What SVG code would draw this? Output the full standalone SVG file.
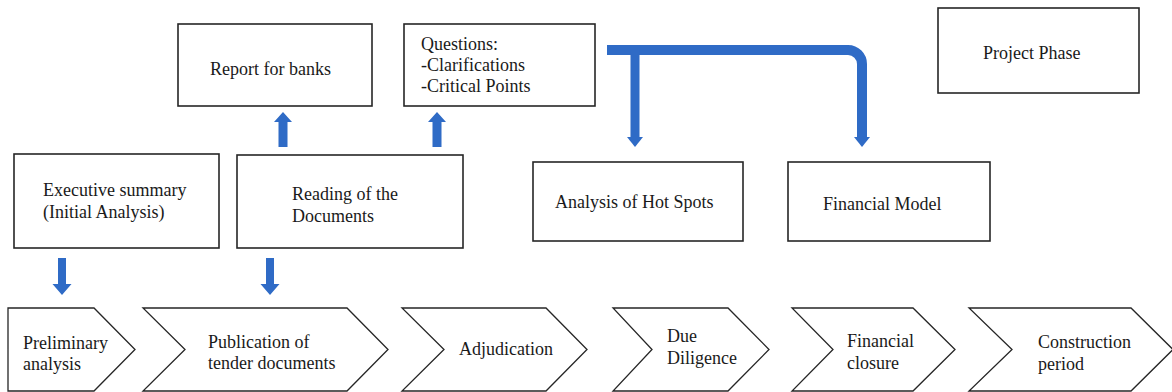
<svg xmlns="http://www.w3.org/2000/svg" width="1172" height="392" viewBox="0 0 1172 392">
  <style>
    .box { fill: #ffffff; stroke: #262626; stroke-width: 1.6; }
    .phase { fill: #ffffff; stroke: #262626; stroke-width: 1.3; stroke-linejoin: miter; }
    .lbl { font-family: 'Liberation Serif', 'Times New Roman', 'DejaVu Serif', serif; font-size: 18px; fill: #1a1a1a; }
    .arrow { fill: #2F6BC6; }
    .pipe { fill: none; stroke: #2F6BC6; }
  </style>
  <rect width="1172" height="392" fill="#ffffff"/>

  <!-- connectors -->
  <g id="connectors">
    <!-- up arrows from "Reading of the Documents" -->
    <polygon class="arrow" points="283,112 292,122 287.5,122 287.5,147 278.5,147 278.5,122 274,122"/>
    <polygon class="arrow" points="437,112 446,122 441.5,122 441.5,147 432.5,147 432.5,122 428,122"/>
    <!-- down arrows into the phase row -->
    <polygon class="arrow" points="58,258 66,258 66,284 71.5,284 62,295 52.5,284 58,284"/>
    <polygon class="arrow" points="266,258 274,258 274,284 279.5,284 270,295 260.5,284 266,284"/>
    <!-- split connector from "Questions" -->
    <path class="pipe" stroke-width="10" d="M607,50 H848 A14,14 0 0 1 862,64 V138"/>
    <path class="pipe" stroke-width="9" d="M635,50 V138"/>
    <polygon class="arrow" points="627,137 643,137 635,147"/>
    <polygon class="arrow" points="854,137 870,137 862,147"/>
  </g>

  <!-- upper boxes -->
  <g id="report-banks">
    <rect class="box" x="178" y="24" width="194" height="82"/>
    <text class="lbl" x="210" y="75">Report for banks</text>
  </g>
  <g id="questions">
    <rect class="box" x="404" y="24" width="191" height="82"/>
    <text class="lbl" x="421" y="50">Questions:</text>
    <text class="lbl" x="421" y="71">-Clarifications</text>
    <text class="lbl" x="421" y="92">-Critical Points</text>
  </g>
  <g id="project-phase">
    <rect class="box" x="938" y="8" width="201" height="85"/>
    <text class="lbl" x="983" y="59">Project Phase</text>
  </g>
  <g id="executive-summary">
    <rect class="box" x="14" y="154" width="205" height="94"/>
    <text class="lbl" x="43" y="196">Executive summary</text>
    <text class="lbl" x="43" y="218">(Initial Analysis)</text>
  </g>
  <g id="reading-documents">
    <rect class="box" x="237" y="155" width="226" height="93"/>
    <text class="lbl" x="292" y="200">Reading of the</text>
    <text class="lbl" x="292" y="222">Documents</text>
  </g>
  <g id="hot-spots">
    <rect class="box" x="533" y="162" width="210" height="79"/>
    <text class="lbl" x="555" y="208">Analysis of Hot Spots</text>
  </g>
  <g id="financial-model">
    <rect class="box" x="788" y="162" width="202" height="79"/>
    <text class="lbl" x="823" y="210">Financial Model</text>
  </g>

  <!-- phase row -->
  <g id="preliminary-analysis">
    <polygon class="phase" points="8,308 94,308 135,349.5 94,391 8,391"/>
    <text class="lbl" x="23" y="349">Preliminary</text>
    <text class="lbl" x="23" y="370">analysis</text>
  </g>
  <g id="publication-tender">
    <polygon class="phase" points="143,308 347,308 388,349.5 347,391 143,391 185,349.5"/>
    <text class="lbl" x="208" y="348">Publication of</text>
    <text class="lbl" x="208" y="369">tender documents</text>
  </g>
  <g id="adjudication">
    <polygon class="phase" points="402,308 546,308 587,349.5 546,391 402,391 444,349.5"/>
    <text class="lbl" x="459" y="355">Adjudication</text>
  </g>
  <g id="due-diligence">
    <polygon class="phase" points="613,308 728,308 769,349.5 728,391 613,391 652,349.5"/>
    <text class="lbl" x="667" y="342">Due</text>
    <text class="lbl" x="667" y="364">Diligence</text>
  </g>
  <g id="financial-closure">
    <polygon class="phase" points="792,308 913,308 955,349.5 913,391 792,391 833,349.5"/>
    <text class="lbl" x="847" y="347">Financial</text>
    <text class="lbl" x="847" y="369">closure</text>
  </g>
  <g id="construction-period">
    <polygon class="phase" points="969,308 1131,308 1173,349.5 1131,391 969,391 1012,349.5"/>
    <text class="lbl" x="1038" y="348">Construction</text>
    <text class="lbl" x="1038" y="370">period</text>
  </g>
</svg>
